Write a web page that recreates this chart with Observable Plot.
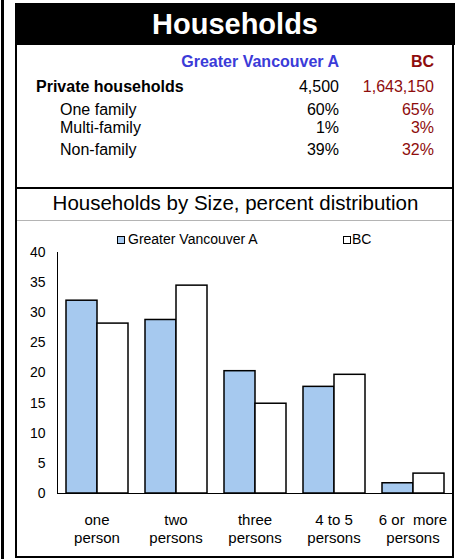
<!DOCTYPE html>
<html>
<head>
<meta charset="utf-8">
<script src="https://cdn.jsdelivr.net/npm/d3@7"></script>
<script src="https://cdn.jsdelivr.net/npm/@observablehq/plot@0.6"></script>
<style>
  html, body { margin: 0; padding: 0; background: #fff; }
  body { width: 455px; height: 559px; position: relative; overflow: hidden;
         font-family: "Liberation Sans", Arial, sans-serif; color: #000; }
  .abs { position: absolute; white-space: pre; line-height: 1; }
  .r { text-align: right; }
</style>
</head>
<body>
<script>
// ---- data ----
const title = "Households";
const regionName = "Greater Vancouver A";
const provinceName = "BC";
const tableRows = ["Private households", "One family", "Multi-family", "Non-family"];
const regionTable = ["4,500", "60%", "1%", "39%"];
const provinceTable = ["1,643,150", "65%", "3%", "32%"];
const chartTitle = "Households by Size, percent distribution";
const categories = ["one\nperson", "two\npersons", "three\npersons", "4 to 5\npersons", "6 or\u00a0 more\npersons"];
const series = ["Greater Vancouver A", "BC"];
const regionValues = [32.0, 28.8, 20.3, 17.7, 1.7];
const provinceValues = [28.2, 34.5, 14.9, 19.7, 3.3];
const yTicks = [0, 5, 10, 15, 20, 25, 30, 35, 40];

// ---- layout helpers ----
function el(css, text, cls) {
  const d = document.createElement("div");
  d.className = "abs" + (cls ? " " + cls : "");
  Object.assign(d.style, css);
  if (text != null) d.textContent = text;
  document.body.appendChild(d);
  return d;
}
function textAt(text, {x, right, center, baseline, size, bold, color}) {
  const css = {fontSize: size + "px", top: (baseline - 0.83 * size) + "px", fontWeight: bold ? "bold" : "normal", color: color || "#000"};
  if (right != null) { css.left = (right - 300) + "px"; css.width = "300px"; css.textAlign = "right"; }
  else if (center != null) { css.left = (center - 250) + "px"; css.width = "500px"; css.textAlign = "center"; }
  else css.left = x + "px";
  return el(css, text);
}

const BLUE = "#a6c9ef";
const BLUE_TEXT = "#3b3bd8";
const RED = "#8e0c0c";

// outer thin line and box
el({left: "1px", top: "0px", width: "3px", height: "559px", background: "#000"});
el({left: "15px", top: "3px", width: "439px", height: "555px", border: "2px solid #000", boxSizing: "border-box"});
el({left: "15px", top: "3px", width: "440px", height: "42px", background: "#000"});
el({left: "15px", top: "187px", width: "439px", height: "2px", background: "#000"});
el({left: "17px", top: "220px", width: "435px", height: "1px", background: "#b4b4b4"});

// header
textAt(title, {center: 235, baseline: 34, size: 29, bold: true, color: "#fff"});

// table
textAt(regionName, {right: 339, baseline: 67, size: 16, bold: true, color: BLUE_TEXT});
textAt(provinceName, {right: 434, baseline: 67, size: 16, bold: true, color: RED});
const rowBaselines = [92, 115, 133.5, 155.5];
tableRows.forEach((r, i) => {
  textAt(r, {x: i === 0 ? 36 : 60, baseline: rowBaselines[i], size: 16, bold: i === 0});
  textAt(regionTable[i], {right: 339, baseline: rowBaselines[i], size: 16});
  textAt(provinceTable[i], {right: 434, baseline: rowBaselines[i], size: 16, color: RED});
});

// chart title
textAt(chartTitle, {center: 235.5, baseline: 210, size: 20.5});

// legend
el({left: "117px", top: "236px", width: "8px", height: "8px", background: BLUE, border: "1px solid #000", boxSizing: "border-box"});
textAt(series[0], {x: 128, baseline: 244, size: 14});
el({left: "343px", top: "236px", width: "8px", height: "8px", background: "#fff", border: "1px solid #000", boxSizing: "border-box"});
textAt(series[1], {x: 352, baseline: 244, size: 14});

// ---- chart ----
const data = [];
categories.forEach((c, i) => {
  data.push({category: c, series: series[0], value: regionValues[i]});
  data.push({category: c, series: series[1], value: provinceValues[i]});
});

const chart = Plot.plot({
  width: 436,
  height: 310,
  marginLeft: 40,
  marginRight: 1,
  marginTop: 7,
  marginBottom: 62,
  style: {fontFamily: "Liberation Sans, Arial, sans-serif", fontSize: "14px", color: "#000", background: "transparent"},
  fx: {domain: categories, padding: 0, label: null},
  x: {domain: series, axis: null, paddingInner: 0, paddingOuter: 0.25},
  y: {domain: [0, 40], ticks: yTicks, tickSize: 0, tickPadding: 12, line: true, label: null},
  color: {domain: series, range: [BLUE, "#ffffff"]},
  marks: [
    Plot.ruleY([0], {stroke: "#000", strokeWidth: 1.2}),
    Plot.barY(data, {fx: "category", x: "series", y: "value", fill: "series", stroke: "#000", strokeWidth: 1.5}),
    Plot.axisFx({anchor: "bottom", tickSize: 0, tickPadding: 19, lineHeight: 1.2, fontSize: 15, label: null})
  ]
});
chart.style.position = "absolute";
chart.style.left = "17px";
chart.style.top = "245px";
document.body.appendChild(chart);
</script>
</body>
</html>
